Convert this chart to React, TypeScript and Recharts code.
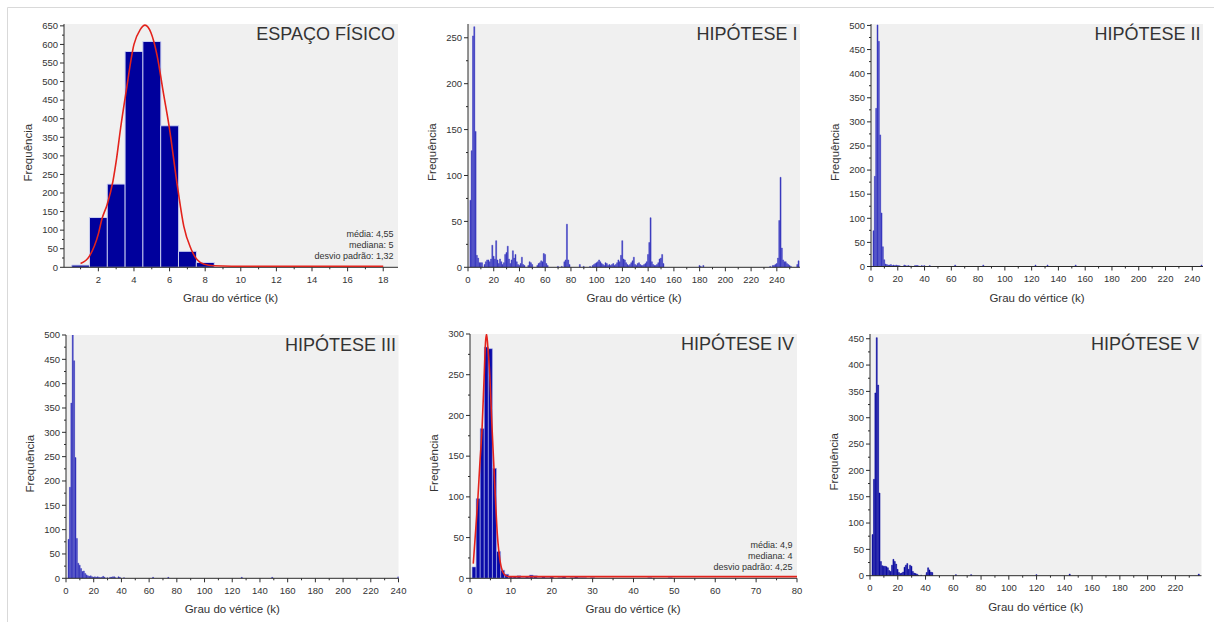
import React from 'react'
import { BarChart, Bar, LineChart, Line, XAxis, YAxis, CartesianGrid } from 'recharts'

type Pair = [number, number]

// grau do vértice (k) -> frequência
const espacoFisico: Pair[] = [[1, 6], [2, 134], [3, 224], [4, 581], [5, 608], [6, 381], [7, 43], [8, 13]]

// fitted curve drawn over the physical-space histogram
const espacoFisicoAjuste: Pair[] = [
  [1.0, 10], [1.5, 30], [2.0, 90], [2.2, 130], [2.5, 170], [2.82, 232], [3.0, 285], [3.25, 375],
  [3.55, 470], [4.0, 600], [4.35, 640], [4.62, 652], [4.95, 632], [5.3, 570], [5.65, 470],
  [5.97, 381], [6.45, 215], [6.8, 110], [7.2, 50], [7.55, 20], [7.95, 8], [8.5, 4], [9.5, 3],
  [12, 3], [15, 3], [18, 3],
]

const hipotese1: Pair[] = [
  [2, 73], [3, 127], [4, 252], [5, 262], [6, 148], [7, 13], [8, 10], [9, 5], [10, 5], [11, 5],
  [13, 3], [14, 6], [15, 8], [16, 8], [17, 6], [18, 9], [19, 24], [20, 12], [21, 9], [22, 29],
  [23, 8], [24, 4], [25, 9], [26, 6], [27, 3], [28, 5], [29, 14], [30, 16], [31, 23], [32, 9],
  [33, 4], [34, 8], [35, 18], [36, 10], [37, 14], [38, 6], [39, 3], [40, 2], [41, 4], [42, 11],
  [43, 3], [44, 2], [47, 2], [48, 6], [49, 5], [50, 3], [54, 2], [55, 4], [56, 5], [57, 7],
  [58, 6], [59, 15], [60, 14], [61, 4], [62, 2], [70, 1], [73, 1], [75, 6], [76, 8], [77, 47],
  [78, 8], [79, 3], [87, 3], [90, 1], [95, 1], [97, 2], [98, 3], [99, 4], [100, 5], [101, 6],
  [102, 8], [103, 6], [104, 4], [105, 3], [106, 2], [107, 5], [108, 4], [109, 2], [110, 3],
  [111, 2], [112, 3], [113, 4], [114, 2], [115, 3], [116, 5], [117, 8], [118, 6], [119, 13],
  [120, 29], [121, 9], [122, 8], [123, 5], [124, 3], [125, 2], [126, 3], [127, 5], [128, 7],
  [129, 11], [130, 3], [131, 2], [132, 4], [133, 5], [134, 3], [135, 2], [136, 2], [137, 3],
  [138, 4], [139, 6], [140, 14], [141, 27], [142, 54], [143, 6], [144, 3], [145, 2], [146, 2],
  [147, 3], [148, 5], [149, 9], [150, 10], [151, 14], [152, 4], [180, 2], [181, 1], [183, 2],
  [235, 1], [237, 2], [238, 2], [239, 3], [240, 4], [241, 10], [242, 51], [243, 98], [244, 21],
  [245, 8], [246, 6], [247, 6], [248, 4], [249, 3], [250, 2], [251, 1], [256, 3], [257, 7],
]

const hipotese2: Pair[] = [
  [2, 74], [3, 187], [4, 328], [5, 501], [6, 467], [7, 273], [8, 111], [9, 41], [10, 14],
  [11, 5], [12, 4], [13, 3], [14, 3], [15, 4], [16, 2], [17, 3], [18, 2], [19, 3], [20, 2],
  [21, 2], [22, 1], [25, 3], [26, 2], [27, 1], [28, 2], [29, 1], [30, 1], [33, 2], [34, 2],
  [35, 2], [36, 1], [38, 2], [39, 1], [40, 2], [44, 2], [63, 3], [84, 3], [123, 3], [132, 3],
  [153, 3], [247, 3],
]

const hipotese3: Pair[] = [
  [2, 80], [3, 187], [4, 360], [5, 500], [6, 447], [7, 248], [8, 82], [9, 31], [10, 27],
  [11, 20], [12, 14], [13, 15], [14, 10], [15, 7], [16, 5], [17, 4], [18, 5], [19, 3], [20, 2],
  [21, 3], [22, 2], [23, 3], [24, 2], [25, 1], [26, 2], [27, 4], [28, 2], [30, 1], [32, 2],
  [33, 2], [34, 3], [35, 3], [36, 1], [38, 3], [39, 2], [42, 1], [63, 2], [74, 2], [127, 2],
  [149, 2], [240, 3],
]

const hipotese4: Pair[] = [
  [1, 14], [2, 98], [3, 184], [4, 284], [5, 282], [6, 135], [7, 33], [8, 10], [9, 5], [10, 2],
  [11, 2], [12, 3], [13, 1], [14, 2], [15, 4], [16, 3], [17, 1], [18, 2], [19, 1], [20, 2],
  [22, 1], [23, 2], [25, 1], [26, 2], [27, 1], [28, 1], [30, 1], [44, 1], [49, 1],
]

const hipotese4Ajuste: Pair[] = [
  [0.8, 18], [1.4, 60], [1.95, 100], [2.4, 140], [2.95, 184], [3.45, 246], [3.8, 290],
  [4.05, 300], [4.35, 285], [4.75, 258], [5.4, 184], [6.05, 115], [6.7, 53], [7.4, 20],
  [8.0, 8], [8.85, 3], [9.7, 2], [20, 2], [40, 2], [60, 2], [80, 2],
]

const hipotese5: Pair[] = [
  [2, 78], [3, 183], [4, 347], [5, 452], [6, 362], [7, 157], [8, 27], [9, 19], [10, 18],
  [11, 18], [12, 17], [13, 15], [14, 10], [15, 8], [16, 20], [17, 31], [18, 27], [19, 22],
  [20, 12], [21, 6], [22, 4], [23, 5], [24, 7], [25, 16], [26, 20], [27, 23], [28, 12],
  [29, 20], [30, 18], [31, 8], [32, 5], [33, 4], [34, 3], [35, 1], [37, 1], [40, 1], [41, 6],
  [42, 15], [43, 11], [44, 7], [45, 6], [62, 2], [73, 2], [120, 2], [144, 3], [237, 3],
]

const statsEspaco = ['média: 4,55', 'mediana: 5', 'desvio padrão: 1,32']
const statsHip4 = ['média: 4,9', 'mediana: 4', 'desvio padrão: 4,25']

const AXIS = '#2b2b2b'
const TEXT = '#333333'
const FONT = '"Liberation Sans", Arial, sans-serif'
const PAD_L = 50
const PAD_R = 14
const PAD_T = 10
const PAD_B = 40

const steps = (from: number, to: number, step: number) => {
  const out: number[] = []
  for (let v = from; v <= to + 1e-9; v += step) out.push(v)
  return out
}

interface PanelCfg {
  title: string
  data: Pair[]
  fit?: Pair[]
  stats?: string[]
  plot: { x: number; y: number; w: number; h: number }
  xDomain: [number, number]
  xMajor: number[]
  xMinor: number[]
  yMax: number
  fill: string
  stroke?: string
  strokeWidth?: number
}

const panels: PanelCfg[] = [
  {
    title: 'ESPAÇO FÍSICO', data: espacoFisico, fit: espacoFisicoAjuste, stats: statsEspaco,
    plot: { x: 63.5, y: 24, w: 334, h: 243.3 }, xDomain: [0.07, 18.83],
    xMajor: steps(2, 18, 2), xMinor: steps(1, 17, 2), yMax: 655,
    fill: '#00009c', stroke: '#cdd2f2', strokeWidth: 1,
  },
  {
    title: 'HIPÓTESE I', data: hipotese1,
    plot: { x: 468, y: 23.5, w: 332, h: 243.3 }, xDomain: [0, 258],
    xMajor: steps(0, 240, 20), xMinor: steps(10, 250, 20), yMax: 265,
    fill: '#2424b4', stroke: '#4848c8', strokeWidth: 0.5,
  },
  {
    title: 'HIPÓTESE II', data: hipotese2,
    plot: { x: 871, y: 24, w: 332, h: 242.5 }, xDomain: [0, 248],
    xMajor: steps(0, 240, 20), xMinor: steps(10, 230, 20), yMax: 503,
    fill: '#2626b4', stroke: '#4848c8', strokeWidth: 0.5,
  },
  {
    title: 'HIPÓTESE III', data: hipotese3,
    plot: { x: 66, y: 335, w: 332.5, h: 243.3 }, xDomain: [0, 240],
    xMajor: steps(0, 240, 20), xMinor: steps(10, 230, 20), yMax: 500,
    fill: '#2020b0', stroke: '#4444c6', strokeWidth: 0.5,
  },
  {
    title: 'HIPÓTESE IV', data: hipotese4, fit: hipotese4Ajuste, stats: statsHip4,
    plot: { x: 469.5, y: 334, w: 327, h: 244.3 }, xDomain: [0, 80],
    xMajor: steps(0, 80, 10), xMinor: steps(5, 75, 10), yMax: 300,
    fill: '#0a0aa8', stroke: '#a9b0e6', strokeWidth: 0.6,
  },
  {
    title: 'HIPÓTESE V', data: hipotese5,
    plot: { x: 870, y: 334, w: 331.5, h: 241.7 }, xDomain: [0, 238.8],
    xMajor: steps(0, 220, 20), xMinor: steps(10, 230, 20), yMax: 459,
    fill: '#0808a0', stroke: '#0808a0', strokeWidth: 0.5,
  },
]

const XTick = (props: any) => {
  const { x, y, payload, major } = props
  const isMajor = major.some((m: number) => Math.abs(m - payload.value) < 1e-6)
  return (
    <g>
      <line x1={x} x2={x} y1={y} y2={y + (isMajor ? 4 : 2)} stroke={AXIS} strokeWidth={1} />
      {isMajor && (
        <text x={x} y={y + 15.5} textAnchor="middle" fontSize={9.5} fontFamily={FONT} fill={TEXT}>
          {payload.value}
        </text>
      )}
    </g>
  )
}

const YTick = (props: any) => {
  const { x, y, payload } = props
  const isMajor = payload.value % 50 === 0
  return (
    <g>
      <line x1={x - (isMajor ? 4 : 2)} x2={x} y1={y} y2={y} stroke={AXIS} strokeWidth={1} />
      {isMajor && (
        <text x={x - 6} y={y + 3.3} textAnchor="end" fontSize={9.5} fontFamily={FONT} fill={TEXT}>
          {payload.value}
        </text>
      )}
    </g>
  )
}

function Panel({ cfg }: { cfg: PanelCfg }) {
  const { plot } = cfg
  const W = plot.w + PAD_L + PAD_R
  const H = plot.h + PAD_T + PAD_B
  const rows = cfg.data.map(([k, f]) => ({ k, f }))
  const xTicks = [...cfg.xMajor, ...cfg.xMinor].sort((a, b) => a - b)
  const yTicks = steps(0, cfg.yMax, 25)
  const box: React.CSSProperties = { position: 'absolute', left: plot.x - PAD_L, top: plot.y - PAD_T, width: W, height: H }

  return (
    <>
      <div style={box}>
        <BarChart width={W} height={H} data={rows} margin={{ top: PAD_T, right: PAD_R, left: 0, bottom: 0 }} barCategoryGap={0} barGap={0}>
          <CartesianGrid fill="#f0f0f0" stroke="none" horizontal={false} vertical={false} />
          <XAxis
            dataKey="k" type="number" domain={cfg.xDomain} allowDataOverflow ticks={xTicks} interval={0}
            height={PAD_B} tickLine={false} tickSize={0} tickMargin={0} axisLine={{ stroke: AXIS }}
            tick={(p: any) => <XTick {...p} major={cfg.xMajor} />}
          />
          <YAxis
            type="number" domain={[0, cfg.yMax]} allowDataOverflow ticks={yTicks} interval={0}
            width={PAD_L} tickLine={false} tickSize={0} tickMargin={0} axisLine={{ stroke: AXIS }}
            tick={(p: any) => <YTick {...p} />}
          />
          <Bar dataKey="f" fill={cfg.fill} stroke={cfg.stroke} strokeWidth={cfg.strokeWidth} isAnimationActive={false} />
        </BarChart>
      </div>
      {cfg.fit && (
        <div style={box}>
          <LineChart width={W} height={H} data={cfg.fit.map(([k, v]) => ({ k, v }))} margin={{ top: PAD_T, right: PAD_R, left: PAD_L, bottom: PAD_B }}>
            <XAxis dataKey="k" type="number" domain={cfg.xDomain} allowDataOverflow hide />
            <YAxis type="number" domain={[0, cfg.yMax]} allowDataOverflow hide />
            <Line type="monotone" dataKey="v" stroke="#e3231c" strokeWidth={1.6} dot={false} isAnimationActive={false} />
          </LineChart>
        </div>
      )}
    </>
  )
}

function PanelText({ cfg }: { cfg: PanelCfg }) {
  const { plot } = cfg
  const right = plot.x + plot.w
  const bottom = plot.y + plot.h
  return (
    <g fontFamily={FONT} fill={TEXT}>
      <text x={right - 2.5} y={plot.y + 16} textAnchor="end" fontSize={18}>{cfg.title}</text>
      <text
        transform={`translate(${plot.x - 32}, ${plot.y + plot.h / 2 + 7}) rotate(-90)`}
        textAnchor="middle" fontSize={11.5}
      >
        Frequência
      </text>
      <text x={plot.x + plot.w / 2} y={bottom + 35} textAnchor="middle" fontSize={11.5}>Grau do vértice (k)</text>
      {cfg.stats?.map((s, i) => (
        <text key={s} x={right - 4} y={bottom - 30 + i * 11} textAnchor="end" fontSize={9}>{s}</text>
      ))}
    </g>
  )
}

export default function App() {
  return (
    <div style={{ position: 'absolute', left: 0, top: 0, width: 1214, height: 622, background: '#fff', overflow: 'hidden' }}>
      {panels.map((cfg) => <Panel key={cfg.title} cfg={cfg} />)}
      <svg width={1214} height={622} style={{ position: 'absolute', left: 0, top: 0, pointerEvents: 'none' }}>
        <line x1={7.5} y1={7.5} x2={1214} y2={7.5} stroke="#d9d9d9" />
        <line x1={7.5} y1={7.5} x2={7.5} y2={622} stroke="#d9d9d9" />
        {panels.map((cfg) => <PanelText key={cfg.title} cfg={cfg} />)}
      </svg>
    </div>
  )
}
